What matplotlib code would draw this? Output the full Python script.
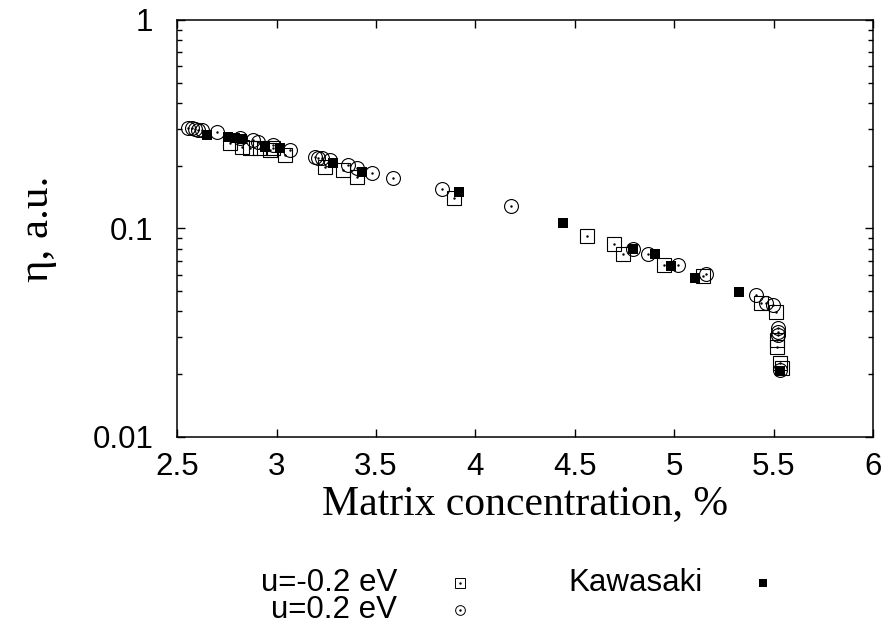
import matplotlib
matplotlib.use("Agg")
import matplotlib.pyplot as plt
from matplotlib.lines import Line2D
from matplotlib.ticker import LogLocator, FixedLocator, NullFormatter
import numpy as np

# u=-0.2 eV (open squares)
x_sq = [2.767, 2.827, 2.868, 2.918, 2.968, 2.983, 3.044, 3.245, 3.336, 3.406,
        3.890, 4.559, 4.695, 4.741, 4.948, 5.144, 5.436, 5.512, 5.516, 5.516,
        5.530, 5.540]
y_sq = [0.257, 0.246, 0.243, 0.243, 0.238, 0.243, 0.225, 0.197, 0.191, 0.177,
        0.140, 0.092, 0.084, 0.075, 0.0668, 0.0592, 0.044, 0.0398, 0.0292, 0.027,
        0.0227, 0.0214]

# u=0.2 eV (open circles)
x_ci = [2.555, 2.576, 2.591, 2.606, 2.626, 2.701, 2.817, 2.883, 2.908, 2.983,
        3.069, 3.195, 3.210, 3.230, 3.270, 3.361, 3.406, 3.482, 3.588, 3.833,
        4.177, 4.791, 4.867, 5.018, 5.159, 5.410, 5.461, 5.497, 5.520, 5.520,
        5.520, 5.530]
y_ci = [0.303, 0.303, 0.300, 0.297, 0.297, 0.290, 0.272, 0.266, 0.260, 0.251,
        0.238, 0.220, 0.218, 0.218, 0.213, 0.202, 0.195, 0.185, 0.175, 0.155,
        0.128, 0.080, 0.0755, 0.0668, 0.0605, 0.048, 0.044, 0.043, 0.0333, 0.0319,
        0.0309, 0.021]

# Kawasaki (filled squares)
x_kw = [2.651, 2.757, 2.792, 2.827, 2.943, 3.019, 3.285, 3.432, 3.920, 4.439,
        4.791, 4.902, 4.983, 5.103, 5.325, 5.530]
y_kw = [0.281, 0.275, 0.272, 0.269, 0.246, 0.243, 0.206, 0.187, 0.150, 0.106,
        0.080, 0.0755, 0.066, 0.0579, 0.0496, 0.0207]

x_ticks = [2.5, 3, 3.5, 4, 4.5, 5, 5.5, 6]
x_ticklabels = ["2.5", "3", "3.5", "4", "4.5", "5", "5.5", "6"]
y_ticks = [0.01, 0.1, 1]
y_ticklabels = ["0.01", "0.1", "1"]

fig = plt.figure(figsize=(8.9, 6.34), dpi=100)
ax = fig.add_axes([0.199, 0.311, 0.782, 0.6575])

ax.set_yscale("log")
ax.set_xlim(2.5, 6)
ax.set_ylim(0.01, 1)

ax.plot(x_sq, y_sq, ls="none", marker="s", ms=9.5, mfc="none", mec="black", mew=0.8)
ax.plot(x_sq, y_sq, ls="none", marker=".", ms=1.5, color="black")
ax.plot(x_ci, y_ci, ls="none", marker="o", ms=10, mfc="none", mec="black", mew=0.8)
ax.plot(x_ci, y_ci, ls="none", marker=".", ms=1.5, color="black")
ax.plot(x_kw, y_kw, ls="none", marker="s", ms=6.5, color="black", mew=0)

ax.xaxis.set_major_locator(FixedLocator(x_ticks))
ax.set_xticklabels(x_ticklabels)
ax.yaxis.set_major_locator(FixedLocator(y_ticks))
ax.set_yticklabels(y_ticklabels)
ax.yaxis.set_minor_locator(LogLocator(base=10, subs=np.arange(2, 10)))
ax.yaxis.set_minor_formatter(NullFormatter())
ax.xaxis.set_minor_locator(FixedLocator([]))

for lab in ax.get_xticklabels() + ax.get_yticklabels():
    lab.set_family("Liberation Sans")
    lab.set_fontsize(22.5)

ax.tick_params(which="both", direction="in", top=True, right=True, width=1.0)
ax.tick_params(which="major", length=6)
ax.tick_params(which="minor", length=3.5)
ax.tick_params(axis="x", pad=11)
ax.tick_params(axis="y", pad=17)
for s in ax.spines.values():
    s.set_linewidth(1.1)

ax.set_xlabel("Matrix concentration, %", family="Liberation Serif", fontsize=30, labelpad=2)
ax.set_ylabel("η, a.u.", family="Liberation Serif", fontsize=31, labelpad=26)

# legend below the plot
lfont = dict(family="Liberation Sans", fontsize=22.5, va="center")
fig.text(0.446, 0.059, "u=-0.2 eV\nu=0.2 eV", ha="right", multialignment="right",
         linespacing=0.86, **lfont)
fig.text(0.789, 0.0804, "Kawasaki", ha="right", **lfont)
fig.add_artist(Line2D([0.517], [0.0804], transform=fig.transFigure, marker="s", ms=7,
                      mfc="none", mec="black", mew=0.7, ls="none"))
fig.add_artist(Line2D([0.517], [0.0804], transform=fig.transFigure, marker=".", ms=1.5,
                      color="black", ls="none"))
fig.add_artist(Line2D([0.517], [0.0379], transform=fig.transFigure, marker="o", ms=7,
                      mfc="none", mec="black", mew=0.7, ls="none"))
fig.add_artist(Line2D([0.517], [0.0379], transform=fig.transFigure, marker=".", ms=1.5,
                      color="black", ls="none"))
fig.add_artist(Line2D([0.857], [0.0804], transform=fig.transFigure, marker="s", ms=6,
                      color="black", mew=0, ls="none"))

fig.savefig("out.png", dpi=100)
